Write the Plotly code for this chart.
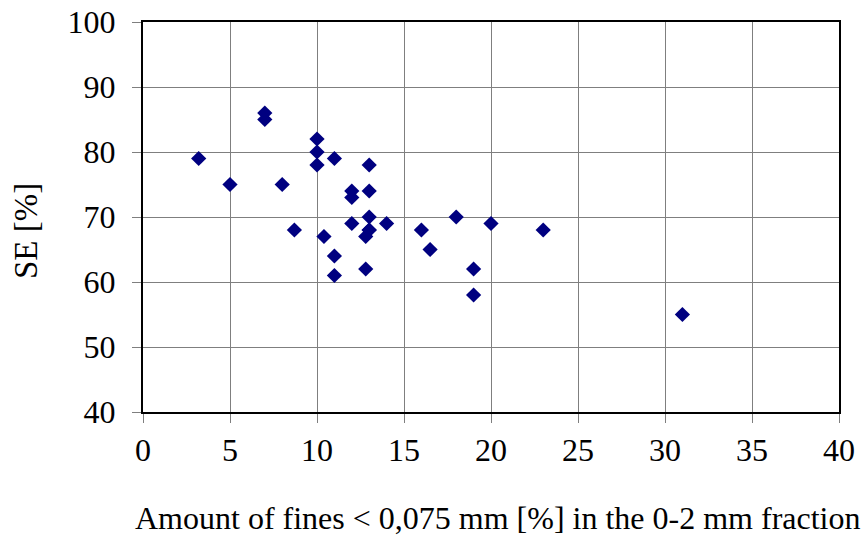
import plotly.graph_objects as go

fines = [3.2, 5, 7, 7, 8, 8.7, 10, 10, 10, 10.4, 11, 11, 11, 12, 12, 12, 12.8, 12.8,
         13, 13, 13, 13, 13, 14, 16, 16.5, 18, 19, 19, 20, 23, 31]
se = [79, 75, 86, 85, 75, 68, 82, 80, 78, 67, 79, 64, 61, 74, 73, 69, 67, 62,
      78, 74, 70, 68, 68, 69, 68, 65, 70, 62, 58, 69, 68, 55]

font_family = "Liberation Serif, Times New Roman, serif"
fs = 32

fig = go.Figure(go.Scatter(
    x=fines, y=se, mode="markers",
    marker=dict(symbol="diamond", size=11.7, color="#000080",
                line=dict(width=0)),
    showlegend=False,
))

axis_common = dict(
    showgrid=True, gridcolor="#7f7f7f", gridwidth=1,
    showline=True, linecolor="black", linewidth=2, mirror=True,
    ticks="outside", ticklen=9, tickcolor="#7f7f7f", tickwidth=1,
    zeroline=False, automargin=False,
    tickfont=dict(family=font_family, size=fs, color="black"),
)

fig.update_layout(
    width=862, height=536,
    margin=dict(l=143, r=23, t=22, b=124),
    plot_bgcolor="white", paper_bgcolor="white",
    xaxis=dict(range=[0, 40], tickvals=[0, 5, 10, 15, 20, 25, 30, 35, 40],
               ticklabelstandoff=0,
               **axis_common),
    yaxis=dict(range=[40, 100], tickvals=[40, 50, 60, 70, 80, 90, 100],
               ticklabelstandoff=10,
               **axis_common),
    annotations=[
        dict(text="Amount of fines < 0,075 mm [%] in the 0-2 mm fraction",
             xref="paper", yref="paper", x=(497 - 143) / 696, y=(412 - 518) / 390,
             xanchor="center", yanchor="middle", showarrow=False,
             font=dict(family=font_family, size=fs, color="black")),
        dict(text="SE [%]", textangle=-90,
             xref="paper", yref="paper", x=(26 - 143) / 696, y=(412 - 231) / 390,
             xanchor="center", yanchor="middle", showarrow=False,
             font=dict(family=font_family, size=33, color="black")),
    ],
)

fig.write_html("out.html")
